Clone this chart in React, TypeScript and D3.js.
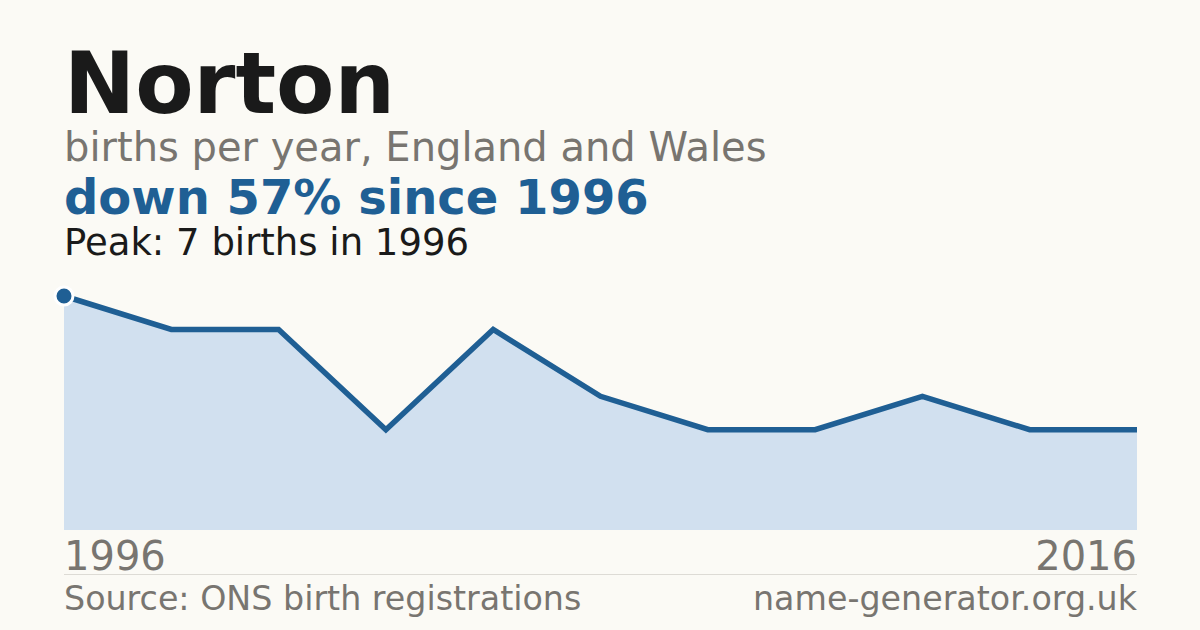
import React from "react";
import * as d3 from "d3";

const W = 1200;
const H = 630;
const MARGIN = { top: 296, right: 63, bottom: 100, left: 64 };

// births every other year
const years = [1996, 1998, 2000, 2002, 2004, 2006, 2008, 2010, 2012, 2014, 2016];
const births = [7, 6, 6, 3, 6, 4, 3, 3, 4, 3, 3];
const tickLabels = ["1996", "2016"];

const BG = "#fbfaf5";
const BLUE = "#1f5f94";
const FILL = "#d1e0ef";
const GREY = "#787570";
const FONT = "'DejaVu Sans', sans-serif";

const App = () => {
  const data = years.map((y, i) => ({ year: y, value: births[i] }));
  const x = d3.scaleLinear().domain([years[0], years[years.length - 1]]).range([MARGIN.left, W - MARGIN.right]);
  const y = d3.scaleLinear().domain([0, d3.max(births) ?? 0]).range([H - MARGIN.bottom, MARGIN.top]);

  const area = d3.area<{ year: number; value: number }>()
    .x((d) => x(d.year))
    .y0(y(0))
    .y1((d) => y(d.value));
  const line = d3.line<{ year: number; value: number }>()
    .x((d) => x(d.year))
    .y((d) => y(d.value));

  const peak = data.reduce((a, b) => (b.value > a.value ? b : a));

  return (
    <svg width={W} height={H} style={{ display: "block", position: "absolute", left: 0, top: 0 }} fontFamily={FONT}>
      <rect width={W} height={H} fill={BG} />
      <text x={64} y={113} fontSize={85} fontWeight="bold" fill="#1a1a1a">Norton</text>
      <text x={64} y={161} fontSize={40} fill={GREY}>births per year, England and Wales</text>
      <text x={64} y={214} fontSize={48} fontWeight="bold" fill={BLUE}>down 57% since 1996</text>
      <text x={64} y={255} fontSize={37} fill="#1a1a1a">Peak: 7 births in 1996</text>

      <path d={area(data) ?? ""} fill={FILL} />
      <path d={line(data) ?? ""} fill="none" stroke={BLUE} strokeWidth={5.5} />
      <circle cx={x(peak.year)} cy={y(peak.value)} r={9} fill={BLUE} stroke="#fff" strokeWidth={3} />

      <text x={x(years[0])} y={570} fontSize={40} fill={GREY}>{tickLabels[0]}</text>
      <text x={x(years[years.length - 1])} y={570} fontSize={40} fill={GREY} textAnchor="end">{tickLabels[1]}</text>
      <line x1={64} x2={W - MARGIN.right} y1={574.5} y2={574.5} stroke="#dddbd5" strokeWidth={1} />
      <text x={64} y={610} fontSize={33.3} fill={GREY}>Source: ONS birth registrations</text>
      <text x={W - MARGIN.right} y={610} fontSize={33.3} fill={GREY} textAnchor="end">name-generator.org.uk</text>
    </svg>
  );
};

export default App;
